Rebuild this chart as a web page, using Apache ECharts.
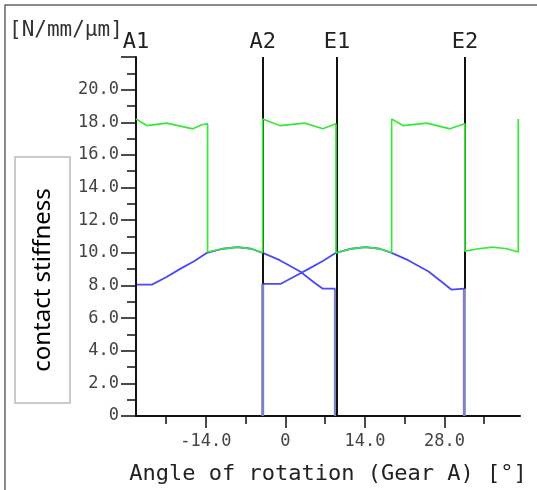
<!DOCTYPE html>
<html>
<head>
<meta charset="utf-8">
<script src="https://cdn.jsdelivr.net/npm/echarts@6/dist/echarts.min.js"></script>
<style>
  html, body { margin: 0; padding: 0; background: #fff; }
  #main { width: 537px; height: 490px; }
</style>
</head>
<body>
<div id="main"></div>
<script>
// x axis ticks / labels (angle of rotation, deg)
var xTicks = [-21, -14, -7, 0, 7, 14, 21, 28, 35];
var xLabels = [-14, 0, 14, 28];

// total contact stiffness (green)
var totalStiff = [
  [-26.3, 18.2], [-24.4, 17.8], [-20.9, 17.95], [-16.3, 17.6], [-14.7, 17.85], [-13.7, 17.9],
  [-13.7, 10.05], [-11, 10.25], [-8.5, 10.35], [-6, 10.25], [-4, 10.0],
  [-4, 18.2], [-1, 17.8], [3.4, 17.95], [6.6, 17.6], [8.4, 17.85], [8.9, 17.9],
  [8.9, 10.0], [11.6, 10.25], [14.1, 10.35], [16.6, 10.25], [18.7, 10.0],
  [18.7, 18.2], [20.7, 17.8], [24.9, 17.95], [29.0, 17.6], [31.0, 17.85], [31.6, 17.9],
  [31.6, 10.1], [34, 10.25], [36.5, 10.35], [39, 10.25], [41.0, 10.05],
  [41.0, 18.2]
];

// single tooth pair stiffness (blue)
var pair1 = [
  [-26.3, 0], [-26.3, 8.05], [-23.5, 8.05], [-21, 8.5], [-18.6, 9.0], [-16, 9.5], [-13.8, 10.0],
  [-11, 10.25], [-8.5, 10.35], [-6, 10.25], [-4, 10.0], [-1, 9.55], [2.6, 8.85],
  [5, 8.2], [6.6, 7.8], [8.8, 7.8]
];
var pair2 = [
  [-4, 8.1], [-0.8, 8.1], [1.6, 8.55], [4, 9.0], [6.6, 9.5], [8.9, 10.0],
  [11.6, 10.25], [14.1, 10.35], [16.6, 10.25], [18.7, 10.0], [21.6, 9.55], [25.2, 8.85],
  [27.6, 8.2], [29.2, 7.75], [31.5, 7.8]
];
// drops to zero at begin / end of contact
var drops = [
  [[-4, 0], [-4, 8.1]],
  [[8.8, 0], [8.8, 7.8]],
  [[31.5, 0], [31.5, 7.8]]
];

// contact points A1, A2, E1, E2
var markNames = ['A1', 'A2', 'E1', 'E2'];
var markAngles = [-26.3, -4.0, 9.1, 31.6];
var markBottom = [0, 8.1, 0, 7.8];

var monoFont = 'DejaVu Sans Mono';
var chart = echarts.init(document.getElementById('main'));

var fmt = function (v) { return v === 0 ? '0' : v.toFixed(1); };

var series = [];
drops.forEach(function (d) {
  series.push({
    type: 'line', data: d, symbol: 'none', z: 3,
    lineStyle: { color: '#8080c8', width: 3 }
  });
});
series.push({
  name: 'pair1', type: 'line', data: pair1, symbol: 'none', z: 4,
  lineStyle: { color: '#4a4af5', width: 1.8 }
});
series.push({
  name: 'pair2', type: 'line', data: pair2, symbol: 'none', z: 4,
  lineStyle: { color: '#4a4af5', width: 1.8 }
});
series.push({
  name: 'total', type: 'line', data: totalStiff, symbol: 'none', z: 5,
  lineStyle: { color: '#38e838', width: 1.7 }
});
series.push({
  name: 'marks', type: 'line', data: [], symbol: 'none', z: 6,
  markLine: {
    symbol: 'none', silent: true,
    lineStyle: { color: '#111', width: 2, type: 'solid' },
    label: {
      position: 'end', distance: 4, formatter: '{b}',
      fontFamily: monoFont, fontSize: 22, color: '#222'
    },
    data: markNames.map(function (n, i) {
      return [{ name: n, coord: [markAngles[i], markBottom[i]] }, { coord: [markAngles[i], 22] }];
    })
  }
});

chart.setOption({
  animation: false,
  grid: { left: 136, right: 17, top: 57, bottom: 74 },
  xAxis: [{
    type: 'value', min: -26.3, max: 41.3,
    name: 'Angle of rotation (Gear A) [°]', nameLocation: 'middle', nameGap: 47,
    nameTextStyle: { fontFamily: monoFont, fontSize: 22, color: '#222' },
    axisLine: { onZero: false, lineStyle: { color: '#111', width: 2 } },
    axisTick: { customValues: xTicks, length: 8, lineStyle: { color: '#111', width: 1.5 } },
    axisLabel: {
      customValues: xLabels, formatter: fmt, margin: 17,
      fontFamily: monoFont, fontSize: 17, color: '#444'
    },
    splitLine: { show: false }
  }, {
    type: 'value', min: -26.3, max: 41.3, position: 'bottom',
    axisLine: { show: false },
    axisTick: { customValues: xLabels, length: 12, lineStyle: { color: '#111', width: 1.5 } },
    axisLabel: { show: false },
    splitLine: { show: false }
  }],
  yAxis: {
    type: 'value', min: 0, max: 22, interval: 2,
    axisLine: { show: true, onZero: false, lineStyle: { color: '#111', width: 2 } },
    axisTick: { length: 15, lineStyle: { color: '#111', width: 1.5 } },
    minorTick: { show: true, splitNumber: 2, length: 9, lineStyle: { color: '#111', width: 1.5 } },
    axisLabel: {
      margin: 17, fontFamily: monoFont, fontSize: 17, color: '#444',
      formatter: function (v) { return v >= 22 ? '' : fmt(v); }
    },
    splitLine: { show: false }
  },
  graphic: [
    { type: 'rect', shape: { x: 5, y: 5, width: 560, height: 520 }, style: { fill: 'none', stroke: '#666', lineWidth: 1.5 }, silent: true },
    { type: 'text', left: 9, top: 20, style: { text: '[N/mm/µm]', fontFamily: monoFont, fontSize: 21, fill: '#333' } },
    { type: 'rect', shape: { x: 15, y: 157, width: 55, height: 246 }, style: { fill: '#fff', stroke: '#bbb', lineWidth: 1.5 } },
    {
      type: 'text', x: 43, y: 280, rotation: Math.PI / 2,
      style: { text: 'contact stiffness', fontFamily: 'Noto Sans', fontSize: 24, fill: '#000', align: 'center', verticalAlign: 'middle' }
    }
  ],
  series: series
});
</script>
</body>
</html>
